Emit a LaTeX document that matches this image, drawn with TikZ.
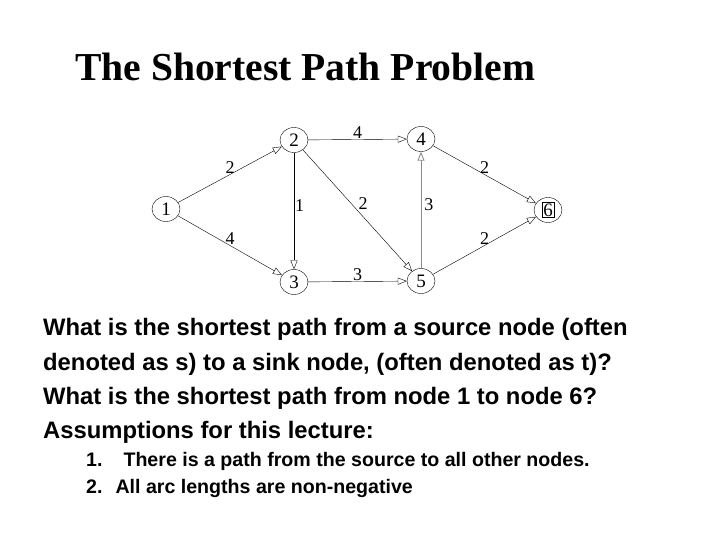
\documentclass[tikz,border=0pt]{standalone}
\usepackage{fontspec}
\setmainfont{Liberation Serif}
\setsansfont{Liberation Sans}
\usepackage{tikz}
\usetikzlibrary{
    arrows.meta,
    positioning,
    shapes.geometric
}

\tikzset{
  vtx/.style={draw,ellipse,minimum width=28pt,minimum height=25pt,inner sep=0pt,
    font=\fontsize{19}{19}\selectfont},
  arc/.style={-{Triangle[open,length=9pt,width=7pt]}},
  wt/.style={font=\fontsize{18}{18}\selectfont,inner sep=1pt},
  qline/.style={anchor=base west,inner sep=0pt,
    font=\sffamily\bfseries\fontsize{23.8}{28}\selectfont},
  aitem/.style={anchor=base west,inner sep=0pt,
    font=\sffamily\bfseries\fontsize{19.6}{24}\selectfont}
}

\begin{document}
\begin{tikzpicture}[x=1pt,y=-1pt,every path/.style={thin}]
  \useasboundingbox (0,0) rectangle (720,540);
  \node[anchor=base west,inner sep=0pt,font=\bfseries\fontsize{39.6}{44}\selectfont]
     (title) at (75,81) {The Shortest Path Problem};
  % the network
  \foreach \n/\x/\y in {1/166/209,2/294/140,3/294/282,4/421/139,5/421/281}
     \node[vtx] (v\n) at (\x,\y) {\n};
  \node[vtx] (v6) at (548,210) {\setlength{\fboxsep}{1pt}\fbox{6}};
  \foreach \a/\b/\w/\where/\p in {1/2/2/above/0.5,1/3/4/above/0.5,2/4/4/above/0.5,
                                  2/3/1/right/0.45,2/5/2/above right/0.5,3/5/3/above/0.5,
                                  4/6/2/above/0.5,5/6/2/above/0.5}
     \draw[arc] (v\a) -- node[wt,\where,pos=\p]{\w} (v\b);
  \draw[arc,black!45,line width=0.9pt] (v5) -- node[wt,right=2pt,pos=0.55,black]{3} (v4);
  % the question
  \foreach \i/\y/\t in {1/335.5/{What is the shortest path from a source node (often},
                        2/370/{denoted as s) to a sink node, (often denoted as t)?},
                        3/404.5/{What is the shortest path from node 1 to node 6?},
                        4/438.5/{Assumptions for this lecture:}}
     \node[qline] (q\i) at (43,\y) {\t};
  \node[aitem] (a1) at (86,466) {1.\hspace{21pt}There is a path from the source to all other nodes.};
  \node[aitem] (a2) at (86,493) {2.\hspace{13pt}All arc lengths are non-negative};
\end{tikzpicture}
\end{document}
